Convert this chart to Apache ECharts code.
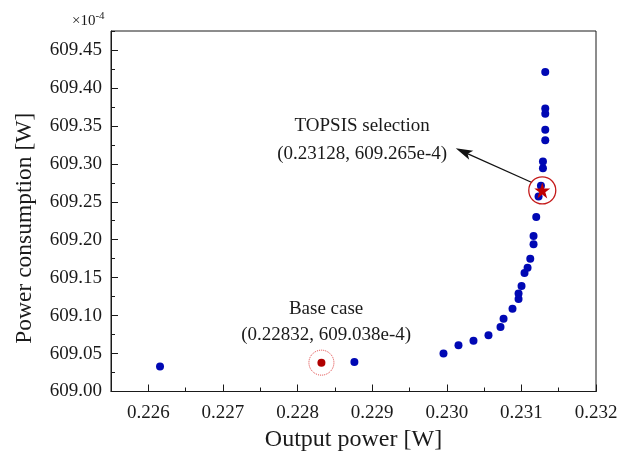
<!DOCTYPE html>
<html>
<head>
<meta charset="utf-8">
<script src="https://cdn.jsdelivr.net/npm/echarts@6/dist/echarts.min.js"></script>
<style>
  html, body { margin: 0; padding: 0; background: #ffffff; }
  #chart { width: 633px; height: 451px; }
</style>
</head>
<body>
<div id="chart"></div>
<script>
// Pareto front: output power [W] vs power consumption [x1e-4 W]
const paretoX = [
  0.226157, 0.228762, 0.229956, 0.230157, 0.230358, 0.230559, 0.230720,
  0.230761, 0.230881, 0.230962, 0.230962, 0.231002, 0.231042, 0.231083,
  0.231119, 0.231163, 0.231163, 0.231199, 0.231230, 0.231262, 0.231289,
  0.231289, 0.231320, 0.231320, 0.231320, 0.231320, 0.231320
];
const paretoY = [
  609.033, 609.039, 609.050, 609.061, 609.067, 609.074, 609.085,
  609.096, 609.109, 609.122, 609.129, 609.139, 609.156, 609.163,
  609.175, 609.194, 609.205, 609.230, 609.257, 609.271, 609.294,
  609.303, 609.331, 609.345, 609.366, 609.373, 609.421
];

// Highlighted designs
const topsisPoint = [0.23128, 609.265];
const basePoint = [0.22832, 609.038];

// Axis ticks
const xMajorTicks = [0.226, 0.227, 0.228, 0.229, 0.230, 0.231, 0.232];

const FONT = 'Liberation Serif';
const INK = '#1a1a1a';

const chart = echarts.init(document.getElementById('chart'), null, { renderer: 'canvas' });

const paretoData = paretoX.map((x, i) => [x, paretoY[i]]);

const starPath = 'path://M50,0 L61.2,34.5 L97.6,34.5 L68.2,55.9 L79.4,90.5 L50,69.1 L20.6,90.5 L31.8,55.9 L2.4,34.5 L38.8,34.5 Z';
const arrowHead = 'path://M5,0 L10,17 L5,13 L0,17 Z';

chart.setOption({
  animation: false,
  backgroundColor: '#ffffff',
  grid: {
    left: 111, right: 37, top: 31, bottom: 59.5,
    outerBoundsMode: 'none', containLabel: false,
    show: true, borderColor: INK, borderWidth: 1, backgroundColor: 'transparent'
  },
  xAxis: [
    {
      type: 'value', min: 0.2255, max: 0.232, position: 'bottom',
      axisLine: { show: true, lineStyle: { color: INK, width: 1 } },
      axisTick: { show: true, inside: true, length: 7, customValues: xMajorTicks, lineStyle: { color: INK, width: 1 } },
      axisLabel: {
        customValues: xMajorTicks, margin: 12,
        formatter: v => v.toFixed(3),
        fontFamily: FONT, fontSize: 19, color: INK
      },
      splitLine: { show: false },
      name: 'Output power [W]', nameLocation: 'middle', nameGap: 36,
      nameTextStyle: { fontFamily: FONT, fontSize: 24, color: INK }
    },
    {
      // minor ticks
      type: 'value', min: 0.2255, max: 0.232, interval: 0.0005, position: 'bottom',
      axisLine: { show: false },
      axisTick: { show: true, inside: true, length: 4, lineStyle: { color: INK, width: 1 } },
      axisLabel: { show: false },
      splitLine: { show: false }
    }
  ],
  yAxis: [
    {
      type: 'value', min: 609.00, max: 609.475, interval: 0.05, position: 'left',
      axisLine: { show: true, lineStyle: { color: INK, width: 1 } },
      axisTick: { show: true, inside: true, length: 7, lineStyle: { color: INK, width: 1 } },
      axisLabel: {
        margin: 9, showMaxLabel: false,
        formatter: v => v.toFixed(2),
        fontFamily: FONT, fontSize: 19, color: INK
      },
      splitLine: { show: false }
    },
    {
      // minor ticks
      type: 'value', min: 609.00, max: 609.475, interval: 0.025, position: 'left',
      axisLine: { show: false },
      axisTick: { show: true, inside: true, length: 4, lineStyle: { color: INK, width: 1 } },
      axisLabel: { show: false },
      splitLine: { show: false }
    }
  ],
  series: [
    {
      name: 'Pareto front', type: 'scatter', data: paretoData,
      symbol: 'circle', symbolSize: 8,
      itemStyle: { color: '#0008b4', opacity: 1 }, z: 3
    },
    {
      name: 'Base case ring', type: 'scatter', data: [basePoint],
      symbol: 'circle', symbolSize: 25, silent: true,
      itemStyle: { color: 'rgba(0,0,0,0)', borderColor: '#e03c3c', borderWidth: 1, borderType: 'dotted', opacity: 1 },
      z: 2
    },
    {
      name: 'Base case', type: 'scatter', data: [basePoint],
      symbol: 'circle', symbolSize: 8,
      itemStyle: { color: '#b00000', opacity: 1 }, z: 4
    },
    {
      name: 'TOPSIS ring', type: 'scatter', data: [topsisPoint],
      symbol: 'circle', symbolSize: 27, silent: true,
      itemStyle: { color: 'rgba(0,0,0,0)', borderColor: '#c41a1a', borderWidth: 1.3, opacity: 1 },
      z: 5
    },
    {
      name: 'TOPSIS selection', type: 'scatter', data: [topsisPoint],
      symbol: starPath, symbolSize: 16,
      itemStyle: { color: '#c00000', opacity: 1 }, z: 6,
      markLine: {
        silent: true, animation: false,
        symbol: ['none', arrowHead], symbolSize: 17,
        label: { show: false },
        lineStyle: { color: '#111111', width: 1.3, type: 'solid', opacity: 1 },
        itemStyle: { color: '#111111' },
        data: [[
          { coord: [0.231141, 609.2754], symbol: 'none' },
          { coord: [0.230224, 609.3158], symbol: arrowHead, symbolSize: [10, 17] }
        ]]
      }
    }
  ]
});

// Text annotations anchored in data space
const toPx = p => chart.convertToPixel({ xAxisIndex: 0, yAxisIndex: 0 }, p);
const topsisAnchor = toPx([0.228866, 609.3316]);
const baseAnchor = toPx([0.228383, 609.0910]);
const gridTop = toPx([0.2255, 609.475]);
const gridBottom = toPx([0.2255, 609.00]);

chart.setOption({
  graphic: [
    {
      type: 'text', x: topsisAnchor[0], y: topsisAnchor[1], silent: true,
      style: {
        text: 'TOPSIS selection\n(' + topsisPoint[0].toFixed(5) + ', ' + topsisPoint[1].toFixed(3) + 'e-4)',
        fontFamily: FONT, fontSize: 19, fill: INK, lineHeight: 28,
        align: 'center', verticalAlign: 'middle'
      }
    },
    {
      type: 'text', x: baseAnchor[0], y: baseAnchor[1], silent: true,
      style: {
        text: 'Base case\n(' + basePoint[0].toFixed(5) + ', ' + basePoint[1].toFixed(3) + 'e-4)',
        fontFamily: FONT, fontSize: 19, fill: INK, lineHeight: 26,
        align: 'center', verticalAlign: 'middle'
      }
    },
    {
      // y-axis title, set slightly below the plot's mid-height
      type: 'text', x: 25, y: (gridTop[1] + gridBottom[1]) / 2 + 17, rotation: Math.PI / 2, silent: true,
      style: {
        text: 'Power consumption [W]',
        fontFamily: FONT, fontSize: 23.5, fill: INK,
        align: 'center', verticalAlign: 'middle'
      }
    },
    {
      type: 'text', left: 72, top: 11, silent: true,
      style: {
        text: '{a|×10}{b|-4}',
        rich: {
          a: { fontFamily: FONT, fontSize: 15, fill: INK, verticalAlign: 'bottom' },
          b: { fontFamily: FONT, fontSize: 11, fill: INK, verticalAlign: 'bottom', padding: [0, 0, 7, 0] }
        }
      }
    }
  ]
});
</script>
</body>
</html>
